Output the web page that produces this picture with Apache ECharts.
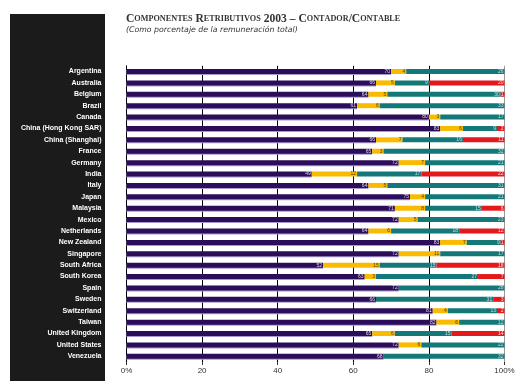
<!DOCTYPE html>
<html><head><meta charset="utf-8">
<script src="https://cdn.jsdelivr.net/npm/echarts@6/dist/echarts.min.js"></script>
<style>html,body{margin:0;padding:0;background:#fff}#c{width:522px;height:392px}</style>
</head><body><div id="c"></div>
<script>
const countries = ["Argentina","Australia","Belgium","Brazil","Canada","China (Hong Kong SAR)","China (Shanghai)","France","Germany","India","Italy","Japan","Malaysia","Mexico","Netherlands","New Zealand","Singapore","South Africa","South Korea","Spain","Sweden","Switzerland","Taiwan","United Kingdom","United States","Venezuela"];
const basePay    = [70,66,64,61,80,83,66,65,72,49,64,75,71,72,64,83,72,52,63,72,66,81,82,65,72,68];
const variablePay= [4,5,5,6,3,6,7,3,7,12,5,4,8,5,6,7,11,15,3,0,0,4,6,6,6,0];
const benefits   = [26,9,30,33,17,9,16,32,21,17,31,21,15,23,18,9,17,15,27,28,31,13,12,15,22,32];
const otherPay   = [0,20,1,0,0,2,11,0,0,22,0,0,6,0,12,1,0,18,7,0,3,2,0,14,0,0];
const xTicks = [0,20,40,60,80,100];

function smallCaps(s){
  let out='';
  for(const ch of s){
    if(ch===' ') out+='{b| }';
    else if(ch>='a'&&ch<='z') out+='{s|'+ch.toUpperCase()+'}';
    else out+='{b|'+ch+'}';
  }
  return out;
}

const chart = echarts.init(document.getElementById('c'), null, {renderer:'canvas'});
function lbl(color){
  return {show:true, position:'insideRight', fontSize:5, color:color, distance:1,
    fontFamily:'Liberation Sans', formatter:p=>p.value?String(p.value):''};
}
chart.setOption({
  animation:false,
  graphic:[{type:'rect', left:10, top:14, shape:{width:95,height:367}, style:{fill:'#1b1b1b'}, z:-1}],
  title:{
    text: smallCaps('Componentes Retributivos 2003 – Contador/Contable'),
    subtext:'(Como porcentaje de la remuneración total)',
    left:121, top:8, itemGap:1,
    textStyle:{rich:{
      b:{fontFamily:'Liberation Serif', fontSize:11.6, color:'#333'},
      s:{fontFamily:'Liberation Serif', fontSize:8.2, color:'#333'}
    }},
    subtextStyle:{fontFamily:'DejaVu Sans', fontStyle:'italic', fontSize:7.8, color:'#333'}
  },
  grid:{left:126.5, right:17.5, top:65.8, bottom:30},
  xAxis:{type:'value', min:0, max:100, interval:20,
    axisLine:{show:false},
    axisTick:{show:true, length:3, lineStyle:{color:'#333'}},
    axisLabel:{fontSize:8, color:'#333', fontFamily:'Liberation Sans Narrow, Liberation Sans', margin:5,
      formatter:v=>v===0?'0%':(v===100?'100%':String(v))},
    splitLine:{show:true, lineStyle:{color:['#000','#000','#000','#000','#000','#9a9a9a'], width:1}}
  },
  yAxis:{type:'category', data:countries, inverse:true,
    axisLine:{show:true, lineStyle:{color:'#000', width:1}},
    axisTick:{show:false},
    axisLabel:{color:'#fff', fontWeight:'bold', fontSize:7, fontFamily:'Liberation Sans', margin:25}
  },
  series:[
    {name:'base', type:'bar', stack:'t', data:basePay, barWidth:5,
      itemStyle:{color:'#2c0d5a', shadowColor:'#a898cc', shadowOffsetY:1, shadowBlur:0}, label:lbl('#ddd')},
    {name:'var', type:'bar', stack:'t', data:variablePay, barWidth:5,
      itemStyle:{color:'#f9bb00'}, label:lbl('#5a3c00')},
    {name:'ben', type:'bar', stack:'t', data:benefits, barWidth:5,
      itemStyle:{color:'#137877'}, label:lbl('#cde')},
    {name:'oth', type:'bar', stack:'t', data:otherPay, barWidth:5,
      itemStyle:{color:'#e3191c'}, label:lbl('#fdd')}
  ]
});
</script></body></html>
